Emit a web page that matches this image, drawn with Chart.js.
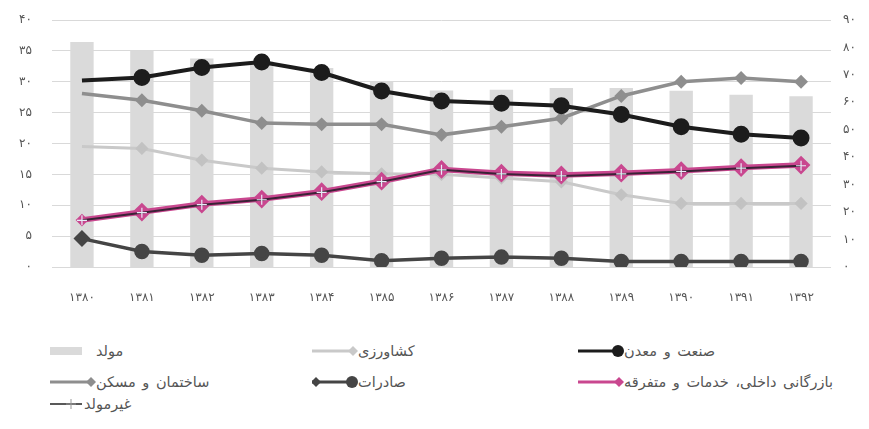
<!DOCTYPE html>
<html>
<head>
<meta charset="utf-8">
<script src="https://cdn.jsdelivr.net/npm/chart.js@4"></script>
<style>
  body { margin: 0; background: #fff; font-family: 'DejaVu Sans', sans-serif; }
  #wrap { position: relative; width: 869px; height: 429px; }
  #box { position: absolute; left: 0; top: 0; width: 869px; height: 330px; }
  .lg { position: absolute; display: flex; align-items: center; font-size: 14.5px; color: #555; white-space: nowrap; }
  .lg svg { display: block; }
  .lg span { unicode-bidi: isolate; direction: rtl; word-spacing: 2px; }
</style>
</head>
<body>
<div id="wrap">
  <div id="box"><canvas id="chart"></canvas></div>
</div>
<script>
// categories and tick labels
const years = ['۱۳۸۰', '۱۳۸۱', '۱۳۸۲', '۱۳۸۳', '۱۳۸۴', '۱۳۸۵', '۱۳۸۶', '۱۳۸۷', '۱۳۸۸', '۱۳۸۹', '۱۳۹۰', '۱۳۹۱', '۱۳۹۲'];
const leftTicks = ['۰', '۵', '۱۰', '۱۵', '۲۰', '۲۵', '۳۰', '۳۵', '۴۰'];
const rightTicks = ['۰', '۱۰', '۲۰', '۳۰', '۴۰', '۵۰', '۶۰', '۷۰', '۸۰', '۹۰'];

// series (left axis)
const sanat     = [30.2, 30.7, 32.3, 33.2, 31.5, 28.5, 26.9, 26.5, 26.1, 24.7, 22.7, 21.5, 20.9];
const sakhteman = [28.1, 27.0, 25.3, 23.3, 23.1, 23.1, 21.4, 22.7, 24.1, 27.7, 30.0, 30.6, 30.0];
const keshavarzi= [19.5, 19.2, 17.3, 16.0, 15.4, 15.1, 15.0, 14.4, 13.8, 11.7, 10.3, 10.3, 10.3];
const bazargani = [7.6, 8.9, 10.2, 11.0, 12.2, 13.9, 15.8, 15.2, 14.9, 15.2, 15.6, 16.1, 16.5];
const saderat   = [4.6, 2.5, 1.9, 2.2, 1.9, 1.0, 1.4, 1.6, 1.4, 0.9, 0.9, 0.9, 0.9];
// series (right axis)
const movalled    = [82.0, 78.7, 76.0, 75.0, 72.5, 67.6, 64.3, 64.6, 65.2, 65.2, 64.2, 62.8, 62.2];
const gheirMovalled = [17.0, 19.8, 22.7, 24.5, 27.2, 31.1, 35.4, 33.9, 33.2, 33.9, 34.8, 36.0, 36.9];

const C = {
  black: '#1c1c1c', mid: '#8e8e8e', light: '#c9c9c9', dark: '#454545',
  pink: '#c9478f', bar: '#dadada', grid: '#d9d9d9', text: '#555555'
};

const hideFirst = r => ctx => ctx.dataIndex === 0 ? 0 : r;

const datasets = [
  { type: 'bar', label: 'مولد', data: movalled, yAxisID: 'y1', backgroundColor: C.bar,
    barPercentage: 0.39, categoryPercentage: 1, order: 20 },
  { type: 'line', label: 'کشاورزی', data: keshavarzi, yAxisID: 'y', borderColor: C.light, borderWidth: 3,
    pointStyle: 'rectRot', pointRadius: hideFirst(4.5), pointBackgroundColor: '#c2c2c2', pointBorderColor: '#c2c2c2', order: 9 },
  { type: 'line', label: 'صنعت و معدن', data: sanat, yAxisID: 'y', borderColor: C.black, borderWidth: 4,
    pointStyle: 'circle', pointRadius: hideFirst(6.5), pointBackgroundColor: C.black, pointBorderColor: C.black, order: 2 },
  { type: 'line', label: 'ساختمان و مسکن', data: sakhteman, yAxisID: 'y', borderColor: C.mid, borderWidth: 3.5,
    pointStyle: 'rectRot', pointRadius: hideFirst(4.5), pointBackgroundColor: C.mid, pointBorderColor: C.mid, order: 6 },
  { type: 'line', label: 'صادرات', data: saderat, yAxisID: 'y', borderColor: C.dark, borderWidth: 3.5,
    pointStyle: ctx => ctx.dataIndex === 0 ? 'rectRot' : 'circle', pointRadius: 6,
    pointBackgroundColor: C.dark, pointBorderColor: C.dark, order: 5 },
  { type: 'line', label: 'بازرگانی داخلی، خدمات و متفرقه', data: bazargani, yAxisID: 'y', borderColor: C.pink, borderWidth: 5.5,
    pointStyle: 'rectRot', pointRadius: ctx => ctx.dataIndex === 0 ? 2.5 : 5.5, pointBackgroundColor: C.pink, pointBorderColor: C.pink, order: 4 },
  { type: 'line', label: 'غیرمولد', data: gheirMovalled, yAxisID: 'y1', borderColor: '#3a2236', borderWidth: 2,
    pointStyle: 'cross', pointRadius: 5, pointBorderColor: '#e8ecf8', pointBorderWidth: 1.2, order: 1 }
];

const tickFont = { family: 'DejaVu Sans', size: 12 };

new Chart(document.getElementById('chart'), {
  data: { labels: years, datasets },
  options: {
    responsive: true,
    maintainAspectRatio: false,
    animation: false,
    layout: { padding: { top: 20, left: 0, right: 0, bottom: 0 } },
    plugins: { legend: { display: false }, tooltip: { enabled: false } },
    scales: {
      x: {
        grid: { display: false, drawTicks: false },
        border: { display: false },
        ticks: { color: C.text, font: tickFont, padding: 24, maxRotation: 0 },
        afterFit: s => { s.height = 63; s.paddingLeft = 0; s.paddingRight = 0; }
      },
      y: {
        position: 'left', min: 0, max: 40,
        grid: { color: C.grid, drawTicks: false },
        border: { display: false },
        ticks: { stepSize: 5, color: C.text, font: tickFont, padding: 20,
          callback: (v, i) => leftTicks[i] },
        afterFit: s => { s.width = 52; s.paddingTop = 0; s.paddingBottom = 0; }
      },
      y1: {
        position: 'right', min: 0, max: 90,
        grid: { display: false, drawTicks: false },
        border: { display: false },
        ticks: { stepSize: 10, color: C.text, font: tickFont, padding: 12,
          callback: (v, i) => rightTicks[i] },
        afterFit: s => { s.width = 38; s.paddingTop = 0; s.paddingBottom = 0; }
      }
    }
  }
});

// ── HTML legend (line + marker symbols like the original) ─────────
function symbol(kind, color) {
  const w = 46, h = 14, m = h / 2;
  let s = '';
  if (kind === 'bar') return `<svg width="34" height="${h}"><rect x="0" y="3" width="32" height="8" fill="${color}"/></svg>`;
  if (kind === 'cross') {
    s = `<line x1="0" y1="${m}" x2="32" y2="${m}" stroke="${color}" stroke-width="1.5"/>` +
        `<line x1="21" y1="${m - 5}" x2="21" y2="${m + 5}" stroke="#999" stroke-width="1"/>` +
        `<line x1="16" y1="${m}" x2="26" y2="${m}" stroke="#999" stroke-width="1"/>`;
    return `<svg width="34" height="${h}">${s}</svg>`;
  }
  s = `<line x1="0" y1="${m}" x2="${w - 4}" y2="${m}" stroke="${color}" stroke-width="3"/>`;
  const d = x => `<polygon points="${x - 5},${m} ${x},${m - 5} ${x + 5},${m} ${x},${m + 5}" fill="${color}"/>`;
  const c = x => `<circle cx="${x}" cy="${m}" r="6" fill="${color}"/>`;
  if (kind === 'diamond') s += d(w - 5);
  if (kind === 'circle') s += c(w - 6);
  if (kind === 'both') s += d(4) + c(w - 6);
  return `<svg width="${w}" height="${h}">${s}</svg>`;
}

const legendLayout = [
  { i: 0, x: 50,  y: 352, kind: 'bar',     color: C.bar },
  { i: 1, x: 312, y: 352, kind: 'diamond', color: C.light },
  { i: 2, x: 578, y: 352, kind: 'circle',  color: C.black },
  { i: 3, x: 50,  y: 383, kind: 'diamond', color: C.mid },
  { i: 4, x: 312, y: 383, kind: 'both',    color: C.dark },
  { i: 5, x: 578, y: 383, kind: 'diamond', color: C.pink },
  { i: 6, x: 50,  y: 405, kind: 'cross',   color: '#222' }
];
const wrap = document.getElementById('wrap');
legendLayout.forEach(L => {
  const el = document.createElement('div');
  el.className = 'lg';
  el.style.left = L.x + 'px';
  el.style.top = (L.y - 9) + 'px';
  el.innerHTML = symbol(L.kind, L.color) + '<span style="margin-left:' + (L.kind === 'bar' ? 12 : 0) + 'px">' + datasets[L.i].label + '</span>';
  wrap.appendChild(el);
});
</script>
</body>
</html>
